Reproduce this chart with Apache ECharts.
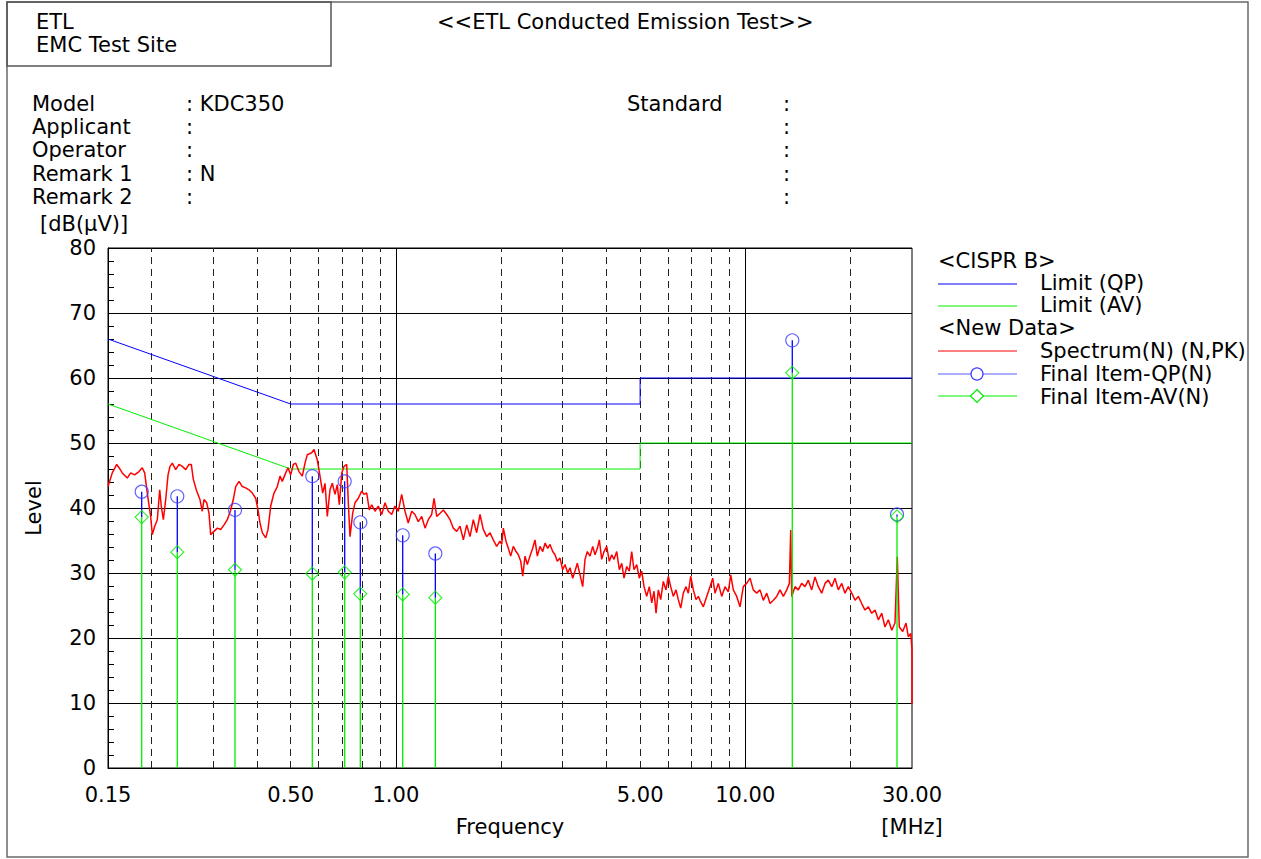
<!DOCTYPE html>
<html><head><meta charset="utf-8">
<script src="https://cdn.jsdelivr.net/npm/echarts@6/dist/echarts.min.js"></script>
<style>html,body{margin:0;padding:0;background:#fff}#c{width:1261px;height:859px}</style>
</head><body><div id="c"></div>
<script>
const FONT = '"DejaVu Sans", sans-serif';

// ---- axis ticks / grid ----
const yMin = 0, yMax = 80, yStep = 10;
const xMin = 0.15, xMax = 30;
const xLabelFreqs = [0.15, 0.5, 1, 5, 10, 30];
const xLabelTexts = ['0.15', '0.50', '1.00', '5.00', '10.00', '30.00'];
const xDashedGrid = [0.2, 0.3, 0.4, 0.5, 0.6, 0.7, 0.8, 0.9, 2, 3, 4, 5, 6, 7, 8, 9, 20];
const xSolidGrid = [1, 10];

// ---- CISPR B limits ----
const limitQPFreq = [0.15, 0.5, 5, 5, 30];
const limitQPLevel = [66, 56, 56, 60, 60];
const limitAVFreq = [0.15, 0.5, 5, 5, 30];
const limitAVLevel = [56, 46, 46, 50, 50];

// ---- final measured items ----
const finalFreq = [0.1873, 0.2368, 0.3464, 0.5765, 0.7137, 0.7910, 1.046, 1.297, 13.63, 27.18];
const finalQP   = [42.5, 41.8, 39.7, 44.9, 44.1, 37.8, 35.8, 33.0, 65.8, 39.0];
const finalAV   = [38.6, 33.2, 30.5, 29.9, 30.1, 26.8, 26.7, 26.2, 60.8, 38.7];

// ---- spectrum (N, PK) ----
const spectrumFreq = [
 0.150,0.1543,0.1589,0.1613,0.1648,0.1703,0.1742,0.1788,0.1840,0.1880,
 0.1910,0.1943,0.1987,0.2009,0.2041,0.2076,0.2109,0.2131,0.2160,0.2194,
 0.2228,0.2257,0.2292,0.2343,0.2395,0.2448,0.2503,0.2558,0.2597,0.2632,
 0.2691,0.2750,0.2792,0.2824,0.2875,0.2918,0.2951,0.3016,0.3083,0.3152,
 0.3222,0.3293,0.3367,0.3425,0.3480,0.3557,0.3635,0.3717,0.3799,0.3882,
 0.3970,0.4031,0.4084,0.4147,0.4241,0.4306,0.4383,0.4479,0.4578,0.4660,
 0.4731,0.4838,0.4912,0.5000,0.5086,0.5168,0.5281,0.5397,
 0.5494,0.5578,0.5743,0.5830,0.5958,0.6065,0.6174,0.6268,0.6364,0.6478,
 0.6577,0.6695,0.6798,0.6888,0.7000,0.7104,0.7233,0.7309,0.7391,0.7524,
 0.7639,0.7807,0.7984,0.8106,0.8251,0.8394,0.8527,0.8715,0.8906,0.9108,
 0.9309,0.9513,0.9729,0.994,1.016,1.039,1.062,1.085,1.110,1.134,
 1.159,1.186,1.212,1.238,1.266,1.286,1.309,1.338,1.367,1.398,
 1.429,1.460,1.493,1.526,1.560,1.595,1.630,1.666,1.703,1.741,
 1.779,1.820,1.860,1.900,1.943,1.986,
 2.009,2.030,2.066,2.098,2.131,2.168,2.207,2.241,2.277,2.307,
 2.342,2.378,2.420,2.464,2.501,2.540,2.585,2.632,2.672,2.720,
 2.761,2.811,2.854,2.897,2.949,3.002,3.048,3.103,3.150,3.207,
 3.256,3.306,3.365,3.425,3.478,3.531,3.594,3.659,3.715,3.772,
 3.822,3.882,3.942,4.012,4.082,4.147,4.210,4.286,4.360,4.430,
 4.497,4.578,4.657,4.731,4.803,4.890,4.974,5.053,5.131,5.222,
 5.313,5.398,5.480,5.553,5.638,5.727,5.826,5.931,6.021,6.117,
 6.223,6.335,6.431,6.534,6.647,6.766,6.870,6.979,7.100,7.228,
 7.338,
 7.421,7.584,7.755,7.926,8.068,8.191,8.371,8.561,8.750,8.942,
 9.085,9.241,9.451,9.659,9.871,10.09,10.32,10.54,10.78,11.02,
 11.26,11.52,11.77,12.03,12.30,12.57,12.85,13.14,13.37,13.49,
 13.58,13.88,14.18,14.50,14.82,15.15,15.49,15.83,16.18,16.55,
 16.91,17.28,17.68,18.06,18.46,18.88,19.29,19.72,20.17,20.61,
 21.06,21.54,22.01,22.50,23.01,23.51,24.03,24.57,25.11,25.67,
 26.25,26.82,27.23,27.59,28.22,28.84,29.28,29.75,30.0,30.0
];
const spectrumLevel = [
 43.3,45.4,46.7,46.2,45.4,44.6,45.4,45.1,45.6,46.2,
 45.4,42.3,38.7,35.9,37.2,38.2,42.8,40.3,38.2,41.3,
 45.1,46.4,46.9,45.9,46.7,46.4,45.9,46.7,46.7,44.4,
 42.6,41.3,39.5,41.3,40.8,39.2,35.9,36.4,36.9,36.7,
 37.4,38.2,39.7,41.3,43.3,44.1,43.3,43.1,42.8,42.3,
 41.5,39.7,37.7,36.2,35.4,36.7,40.3,42.3,43.3,44.9,
 44.1,45.4,46.2,45.1,46.7,46.9,45.6,44.9,
 46.9,48.2,48.5,49.0,47.4,44.9,42.3,43.8,38.7,42.8,
 43.8,42.1,43.6,40.5,45.4,46.4,46.7,40.8,35.6,39.2,
 40.8,41.5,42.6,42.1,42.3,39.7,40.5,39.5,40.3,39.0,
 40.8,39.5,39.0,40.3,39.5,42.1,39.5,37.7,39.5,39.0,
 37.9,38.7,36.9,38.2,39.0,41.5,38.7,39.2,39.7,39.0,
 38.2,36.9,36.4,37.2,35.1,37.4,35.6,38.2,36.2,39.0,
 36.7,35.6,36.2,35.1,34.1,34.9,
 34.4,36.9,34.9,33.8,32.6,34.1,33.3,32.8,31.8,29.5,
 32.6,31.3,32.6,33.8,35.1,32.6,34.1,33.3,34.6,33.8,
 34.4,33.3,32.8,31.8,32.3,30.5,31.3,30.0,30.8,29.2,
 30.3,31.5,29.7,27.9,32.1,33.3,32.6,34.1,32.8,33.8,
 35.1,32.1,33.3,34.1,31.8,32.8,32.1,33.3,30.5,31.5,
 29.2,31.0,30.3,33.3,30.5,31.3,29.2,30.3,27.9,26.4,
 27.9,25.4,27.2,23.8,27.4,25.9,28.7,27.4,29.5,27.9,
 26.4,27.4,25.9,24.6,26.9,27.9,26.9,29.5,27.4,25.9,
 26.4,
 25.8,24.8,26.4,27.9,29.2,26.9,28.4,26.4,27.9,27.1,
 29.7,27.4,26.4,24.8,27.9,28.4,29.2,27.4,26.9,27.4,
 25.8,26.9,25.3,25.8,26.4,27.4,26.4,27.4,28.4,36.6,
 26.4,27.9,27.4,28.4,27.9,28.9,27.4,29.4,27.9,26.9,
 28.4,28.9,27.9,29.2,27.4,28.4,26.9,27.9,26.9,25.8,
 26.4,25.3,24.3,24.8,23.8,24.3,22.8,23.8,21.7,22.8,
 21.2,22.3,32.5,21.7,21.0,22.3,20.2,20.7,18.2,9.8
];

// ---- header / legend texts ----
const siteLines = ['ETL', 'EMC Test Site'];
const titleText = '<<ETL Conducted Emission Test>>';
const infoLabels = ['Model', 'Applicant', 'Operator', 'Remark 1', 'Remark 2'];
const infoValues = [': KDC350', ':', ':', ': N', ':'];
const standardLabel = 'Standard';
const yUnit = '[dB(\u03bcV)]';
const xUnit = '[MHz]';

const BLUE = '#0000ff', GREEN = '#00ee00', RED = '#ff0000';
const CIRCLE_BLUE = '#3c3cff';

const chart = echarts.init(document.getElementById('c'), null, {renderer: 'svg'});

const pair = (xs, ys) => xs.map((x, i) => [x, ys[i]]);

const gridLines = [];
xDashedGrid.forEach(f => gridLines.push({xAxis: f, lineStyle: {type: [7, 5], color: '#222', width: 1}}));
xSolidGrid.forEach(f => gridLines.push({xAxis: f, lineStyle: {type: 'solid', color: '#000', width: 1}}));

const txt = (x, y, s, extra) => Object.assign({
  type: 'text', x: x, y: y, silent: true,
  style: {text: s, fontSize: 21, fontFamily: FONT, fill: '#000', align: 'left', verticalAlign: 'middle'}
}, extra || {});

const graphics = [
  {type: 'rect', silent: true, shape: {x: 7, y: 2, width: 1241, height: 855}, style: {fill: 'none', stroke: '#6a6a6a', lineWidth: 1.5}},
  {type: 'rect', silent: true, shape: {x: 7, y: 2, width: 324, height: 64}, style: {fill: 'none', stroke: '#555', lineWidth: 1.5}},
  txt(36, 22, siteLines[0]),
  txt(36, 45, siteLines[1]),
  txt(437, 22, titleText),
  txt(627, 104, standardLabel),
  txt(40, 224, yUnit),
  txt(912, 827, xUnit, {style: {text: xUnit, fontSize: 21, fontFamily: FONT, fill: '#000', align: 'center', verticalAlign: 'middle'}})
];
infoLabels.forEach((s, i) => {
  const y = 104 + i * 23.2;
  graphics.push(txt(32, y, s));
  graphics.push(txt(186, y, infoValues[i]));
  graphics.push(txt(783, y, ':'));
});

// legend
const LX0 = 938, LX1 = 1017, LT = 1040;
graphics.push(txt(LX0, 261, '<CISPR B>'));
graphics.push({type: 'line', silent: true, shape: {x1: LX0, y1: 284, x2: LX1, y2: 284}, style: {stroke: BLUE, lineWidth: 1}});
graphics.push(txt(LT, 283, 'Limit (QP)'));
graphics.push({type: 'line', silent: true, shape: {x1: LX0, y1: 306, x2: LX1, y2: 306}, style: {stroke: GREEN, lineWidth: 1}});
graphics.push(txt(LT, 305, 'Limit (AV)'));
graphics.push(txt(LX0, 328, '<New Data>'));
graphics.push({type: 'line', silent: true, shape: {x1: LX0, y1: 351, x2: LX1, y2: 351}, style: {stroke: RED, lineWidth: 1}});
graphics.push(txt(LT, 351, 'Spectrum(N) (N,PK)'));
graphics.push({type: 'line', silent: true, shape: {x1: LX0, y1: 374, x2: LX1, y2: 374}, style: {stroke: '#5a5aff', lineWidth: 1}});
graphics.push({type: 'circle', silent: true, shape: {cx: 977, cy: 374, r: 6}, style: {fill: '#fff', stroke: CIRCLE_BLUE, lineWidth: 1.2}});
graphics.push(txt(LT, 374, 'Final Item-QP(N)'));
graphics.push({type: 'line', silent: true, shape: {x1: LX0, y1: 396, x2: LX1, y2: 396}, style: {stroke: GREEN, lineWidth: 1}});
graphics.push({type: 'polygon', silent: true, shape: {points: [[977, 389.5], [983.5, 396], [977, 402.5], [970.5, 396]]}, style: {fill: '#fff', stroke: GREEN, lineWidth: 1.2}});
graphics.push(txt(LT, 397, 'Final Item-AV(N)'));

const stemRender = color => (params, api) => {
  const f = api.value(0);
  const a = api.coord([f, api.value(1)]);
  const b = api.coord([f, api.value(2)]);
  return {type: 'line', shape: {x1: a[0], y1: a[1], x2: b[0], y2: b[1]}, style: {stroke: color, lineWidth: 1.3}};
};

const xLabelRender = (params, api) => {
  const p = api.coord([api.value(0), yMin]);
  return {type: 'text', x: p[0], y: p[1] + 27, silent: true,
    style: {text: xLabelTexts[params.dataIndex], fontSize: 21, fontFamily: FONT, fill: '#000', align: 'center', verticalAlign: 'middle'}};
};

chart.setOption({
  animation: false,
  backgroundColor: '#fff',
  grid: {left: 108, top: 248, right: 349, bottom: 91, show: true, borderColor: '#000', borderWidth: 1, backgroundColor: 'transparent'},
  xAxis: {
    type: 'log', logBase: 10, min: xMin, max: xMax,
    name: 'Frequency', nameLocation: 'middle', nameGap: 48,
    nameTextStyle: {fontSize: 21, fontFamily: FONT, color: '#000'},
    axisLine: {show: true, lineStyle: {color: '#000', width: 1}},
    axisTick: {show: false}, axisLabel: {show: false},
    splitLine: {show: false}, minorTick: {show: false}, minorSplitLine: {show: false}
  },
  yAxis: {
    type: 'value', min: yMin, max: yMax, interval: yStep,
    name: 'Level', nameLocation: 'middle', nameGap: 64, nameRotate: 90,
    nameTextStyle: {fontSize: 21, fontFamily: FONT, color: '#000'},
    axisLine: {show: true, lineStyle: {color: '#000', width: 1}},
    axisTick: {show: true, inside: true, length: 6, lineStyle: {color: '#000'}},
    minorTick: {show: true, splitNumber: 5, length: 6, lineStyle: {color: '#000', width: 1}},
    axisLabel: {fontSize: 21, fontFamily: FONT, color: '#000', margin: 12},
    splitLine: {show: true, lineStyle: {color: '#000', width: 1}}
  },
  graphic: graphics,
  series: [
    {
      name: 'Limit (QP)', type: 'line', data: pair(limitQPFreq, limitQPLevel), clip: false,
      showSymbol: false, symbol: 'none', lineStyle: {color: BLUE, width: 1}, z: 3,
      markLine: {silent: true, symbol: ['none', 'none'], z: 1, animation: false, label: {show: false}, data: gridLines}
    },
    {name: 'Limit (AV)', type: 'line', data: pair(limitAVFreq, limitAVLevel), showSymbol: false, symbol: 'none', lineStyle: {color: GREEN, width: 1}, z: 3},
    {name: 'Spectrum(N) (N,PK)', type: 'line', data: pair(spectrumFreq, spectrumLevel), showSymbol: false, symbol: 'none', lineStyle: {color: RED, width: 1.5}, z: 4, clip: false},
    {name: 'Final Item-AV stem', type: 'custom', renderItem: stemRender(GREEN), encode: {x: 0, y: [1, 2]},
      data: finalFreq.map((f, i) => [f, 0, finalAV[i]]), z: 5},
    {name: 'Final Item-QP stem', type: 'custom', renderItem: stemRender(BLUE), encode: {x: 0, y: [1, 2]},
      data: finalFreq.map((f, i) => [f, finalAV[i], finalQP[i]]), z: 5},
    {name: 'Final Item-QP(N)', type: 'scatter', data: pair(finalFreq, finalQP), symbol: 'circle', symbolSize: 13,
      itemStyle: {color: 'rgba(0,0,0,0)', borderColor: CIRCLE_BLUE, borderWidth: 1.2}, z: 6},
    {name: 'Final Item-AV(N)', type: 'scatter', data: pair(finalFreq, finalAV), symbol: 'diamond', symbolSize: 13,
      itemStyle: {color: 'rgba(0,0,0,0)', borderColor: GREEN, borderWidth: 1.2}, z: 6},
    {name: 'Frequency ticks', type: 'custom', renderItem: xLabelRender, encode: {x: 0, y: 1}, clip: false,
      data: xLabelFreqs.map(f => [f, yMin]), z: 7}
  ]
});
</script>
</body></html>
